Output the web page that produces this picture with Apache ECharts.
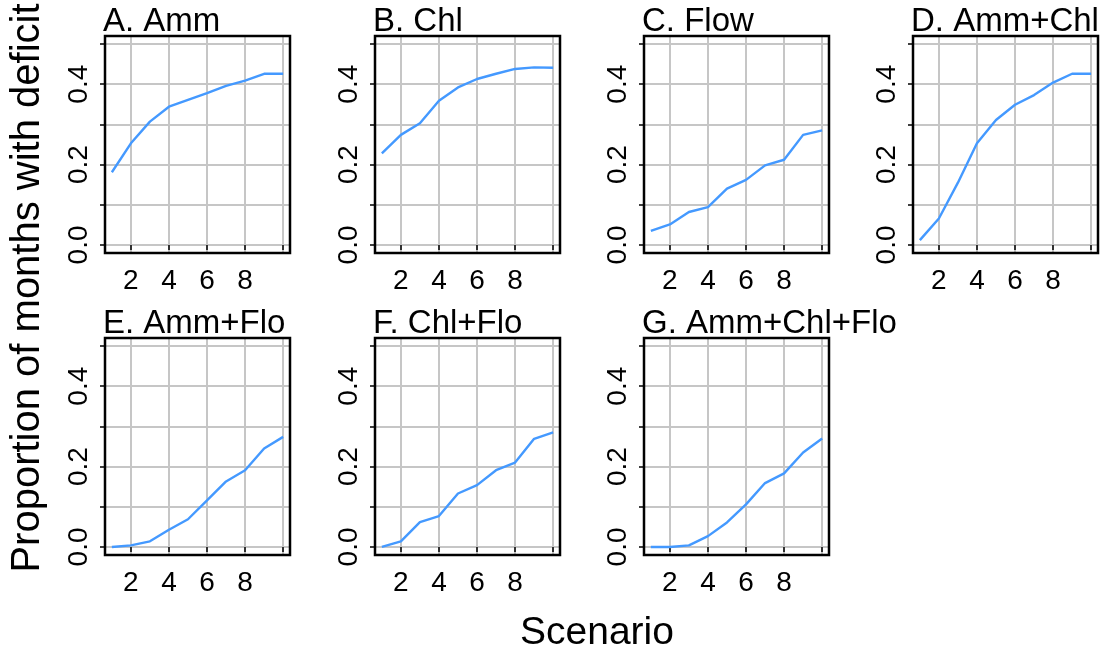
<!DOCTYPE html>
<html>
<head>
<meta charset="utf-8">
<script src="https://cdn.jsdelivr.net/npm/echarts@6/dist/echarts.min.js"></script>
<style>
  html, body { margin: 0; padding: 0; background: #fff; }
  #chart { width: 1103px; height: 652px; }
</style>
</head>
<body>
<div id="chart"></div>
<script>
// data
const scenarios = [1, 2, 3, 4, 5, 6, 7, 8, 9, 10];
const panelTitles = ["A. Amm", "B. Chl", "C. Flow", "D. Amm+Chl", "E. Amm+Flo", "F. Chl+Flo", "G. Amm+Chl+Flo"];

const amm = [0.181, 0.253, 0.307, 0.344, 0.361, 0.378, 0.396, 0.409, 0.426, 0.426];
const chl = [0.228, 0.274, 0.303, 0.359, 0.392, 0.413, 0.426, 0.438, 0.442, 0.441];
const flow = [0.035, 0.051, 0.082, 0.094, 0.140, 0.162, 0.198, 0.212, 0.274, 0.285];
const ammChl = [0.012, 0.066, 0.155, 0.253, 0.311, 0.349, 0.373, 0.404, 0.426, 0.426];
const ammFlo = [0.000, 0.004, 0.014, 0.043, 0.069, 0.116, 0.163, 0.191, 0.245, 0.274];
const chlFlo = [0.000, 0.014, 0.062, 0.077, 0.133, 0.154, 0.191, 0.210, 0.269, 0.285];
const ammChlFlo = [0.000, 0.000, 0.004, 0.027, 0.061, 0.106, 0.159, 0.183, 0.235, 0.270];

const xTicks = [2, 4, 6, 8, 10];
const xLabels = [2, 4, 6, 8];
const yTicks = [0, 0.1, 0.2, 0.3, 0.4, 0.5];
const yLabels = [0, 0.2, 0.4];

const yTitle = "Proportion of months with deficit";
const xTitle = "Scenario";

const seriesData = [amm, chl, flow, ammChl, ammFlo, chlFlo, ammChlFlo];

// panel boxes (left, top) in pixels
const panelPos = [
  [105, 36], [375, 36], [644, 36], [913, 36],
  [105, 338], [375, 338], [644, 338]
];
const boxW = 185;
const boxH = 217;

const font = "Liberation Sans, Arial, Helvetica, sans-serif";
const lineColor = "#4499ff";
const gridColor = "#c6c6c6";

const chart = echarts.init(document.getElementById("chart"));

const grids = [], xAxes = [], yAxes = [], series = [], titles = [];

panelPos.forEach((p, i) => {
  grids.push({
    left: p[0], top: p[1], width: boxW, height: boxH,
    show: true, borderColor: "#000", borderWidth: 2.5,
    backgroundColor: "transparent", z: 5
  });
  xAxes.push({
    type: "value", gridIndex: i, min: 0.64, max: 10.36,
    axisLine: { show: false },
    axisTick: { show: true, length: 5, customValues: xTicks, lineStyle: { color: "#000", width: 1.5 } },
    axisLabel: {
      customValues: xLabels, margin: 14, color: "#000",
      fontSize: 28, fontFamily: font
    },
    splitLine: { show: true, lineStyle: { color: gridColor, width: 2 } }
  });
  yAxes.push({
    type: "value", gridIndex: i, min: -0.02, max: 0.52,
    axisLine: { show: false },
    axisTick: { show: true, length: 5, customValues: yTicks, lineStyle: { color: "#000", width: 1.5 } },
    axisLabel: {
      customValues: yLabels, margin: 12, rotate: 90, color: "#000",
      fontSize: 28, fontFamily: font,
      formatter: (v) => v.toFixed(1)
    },
    splitLine: { show: true, lineStyle: { color: gridColor, width: 2 } }
  });
  series.push({
    type: "line", xAxisIndex: i, yAxisIndex: i,
    data: scenarios.map((s, k) => [s, seriesData[i][k]]),
    showSymbol: false, z: 3,
    lineStyle: { color: lineColor, width: 2.4 }
  });
  titles.push({
    text: panelTitles[i], left: p[0] - 2, top: p[1] - 31, padding: 0,
    textStyle: { fontSize: 33, fontWeight: "normal", color: "#000", fontFamily: font }
  });
});

chart.setOption({
  animation: false,
  backgroundColor: "#fff",
  title: titles,
  grid: grids,
  xAxis: xAxes,
  yAxis: yAxes,
  series: series,
  graphic: [
    {
      type: "text", x: 28, y: 288, rotation: Math.PI / 2,
      style: { text: yTitle, fontSize: 40, fontFamily: font, fill: "#000", align: "center", verticalAlign: "middle" }
    },
    {
      type: "text", x: 597, y: 633,
      style: { text: xTitle, fontSize: 39, fontFamily: font, fill: "#000", align: "center", verticalAlign: "middle" }
    }
  ]
});
</script>
</body>
</html>
